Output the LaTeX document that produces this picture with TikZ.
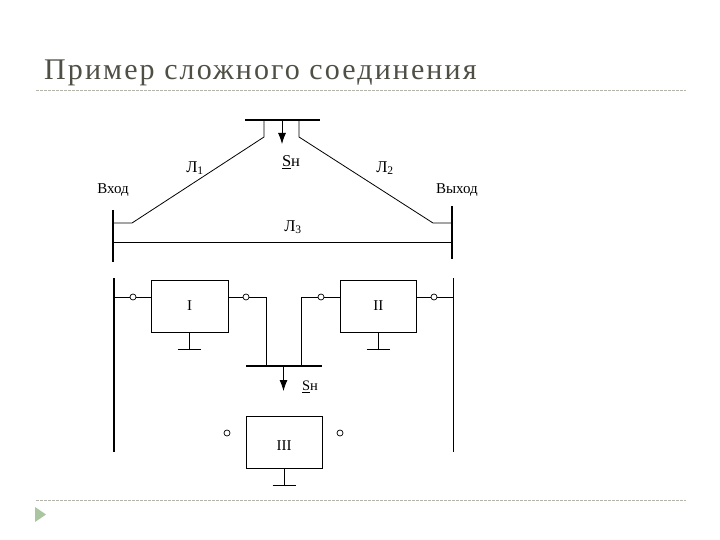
\documentclass[tikz,border=0pt]{standalone}
\usepackage{fontspec}
\setmainfont{Liberation Serif}
\newfontfamily\titlefont[LetterSpace=7]{Liberation Serif}
\usetikzlibrary{positioning, arrows.meta}

\definecolor{titlegray}{HTML}{4F4F45}
\definecolor{rulegray}{HTML}{B4B4AC}
\definecolor{markgreen}{HTML}{A9C6A0}

\begin{document}
\begin{tikzpicture}[x=1pt, y=-1pt, font=\fontsize{15pt}{17pt}\selectfont,
	b/.style={draw, minimum height=52pt, inner sep=0pt},
	c/.style={circle, draw, fill=white, minimum width=6pt, inner sep=0pt, line width=.7pt},
	w/.style={line width=.8pt},
	s/.style={line width=1.6pt},
	l/.style={-{Latex[length=11pt, width=8pt]}, line width=.8pt},
	r/.style={rulegray, line width=.6pt, dash pattern=on 3pt off 1pt},
	big/.style={font=\fontsize{16.5pt}{18pt}\selectfont}]
		\useasboundingbox (0,0) rectangle (720,540);

		\node[anchor=base west, font=\titlefont\fontsize{30pt}{32pt}\selectfont, text=titlegray, inner sep=0pt] (title) at (44,80) {Пример сложного соединения};
		\coordinate (R1a) at (36,90);
		\coordinate (R1b) at (686,90);
		\coordinate (R2a) at (36,500);
		\coordinate (R2b) at (686,500);
		\draw[r] (R1a) -- (R1b);
		\draw[r] (R2a) -- (R2b);
		\fill[markgreen] (35,507) -- (46,514.5) -- (35,522) -- cycle;

		% top
		\coordinate (TopL) at (245,120);
		\coordinate (TopR) at (320,120);
		\coordinate (S1) at (264,120);
		\coordinate (S1b) at (264,137);
		\coordinate (S2) at (299,120);
		\coordinate (S2b) at (299,137);
		\coordinate (TopA) at (282,120);
		\coordinate (TopAb) at (282,144);
		\coordinate (InT) at (113,210);
		\coordinate (InB) at (113,262);
		\coordinate (OutT) at (452,206);
		\coordinate (OutB) at (452,259);
		\coordinate (J1) at (132,223);
		\coordinate (J2) at (433,223);
		\coordinate (L3a) at (113,242);
		\coordinate (L3b) at (452,242);

		\draw[s] (TopL) -- (TopR);
		\draw[s] (InT) -- (InB);
		\draw[s, line width=1.2pt] (OutT) -- (OutB);
		\draw[w] (S1) -- (S1b) -- (J1) -- (J1 -| InT);
		\draw[w] (S2) -- (S2b) -- (J2) -- (J2 -| OutT);
		\draw[w] (L3a) -- (L3b);
		\draw[l] (TopA) -- (TopAb);

		\node (Vhod) at (113,190) {Вход};
		\node (Vyhod) at (457,190) {Выход};
		\node[big] (L1) at (195,168) {Л\textsubscript{1}};
		\node[big] (L2) at (385,168) {Л\textsubscript{2}};
		\node[big] (L3) at (293,227) {Л\textsubscript{3}};
		\node[big] (SnTop) at (291,162) {\underline{S}н};

		% bottom
		\node[b, minimum width=77pt] (I) at (189.5,306) {I};
		\node[b, minimum width=76pt, right=112pt of I] (II) {II};
		\node[b, minimum width=76pt] (III) at (284,442) {};
		\node (III_label) at (284,446) {III};
		\node[c] (I_in) at (133,297) {};
		\node[c] (I_out) at (246,297) {};
		\node[c] (II_in) at (321,297) {};
		\node[c] (II_out) at (434,297) {};
		\node[c] (III_in) at (227,433) {};
		\node[c] (III_out) at (340,433) {};

		\coordinate (BusLT) at (114,278);
		\coordinate (BusLB) at (114,452);
		\coordinate (BusRT) at (453,278);
		\coordinate (BusRB) at (453,452);
		\coordinate (BarL) at (246,366);
		\coordinate (BarR) at (322,366);
		\coordinate (Bar1) at (266,366);
		\coordinate (Bar2) at (301,366);
		\coordinate (BarA) at (283.5,366);
		\coordinate (BarAb) at (283.5,391);

		\draw[s, line width=2pt] (BusLT) -- (BusLB);
		\draw[w, line width=1pt] (BusRT) -- (BusRB);
		\draw[s, line width=1.3pt] (BarL) -- (BarR);
		\draw[w] (I_in -| BusLT) -- (I_in) -- (I_in -| I.west);
		\draw[w] (I_out -| I.east) -- (I_out) -- (I_out -| Bar1) -- (Bar1);
		\draw[w] (II_out -| BusRT) -- (II_out) -- (II_out -| II.east);
		\draw[w] (II_in -| II.west) -- (II_in) -- (II_in -| Bar2) -- (Bar2);
		\draw[l] (BarA) -- (BarAb);
		\node[font=\fontsize{14.5pt}{16pt}\selectfont] (SnBot) at (310,387) {\underline{S}н};

		% ground
		\coordinate (G1) at (189,349);
		\coordinate (G2) at (378,349);
		\coordinate (G3) at (284,485);
		\draw[w] (I.south -| G1) -- (G1);
		\draw[w] (II.south -| G2) -- (G2);
		\draw[w] (III.south -| G3) -- (G3);
		\draw[s, line width=1pt] ([xshift=-11.5pt]G1) -- ([xshift=11.5pt]G1);
		\draw[s, line width=1pt] ([xshift=-11.5pt]G2) -- ([xshift=11.5pt]G2);
		\draw[s, line width=1pt] ([xshift=-11.5pt]G3) -- ([xshift=11.5pt]G3);
\end{tikzpicture}
\end{document}
